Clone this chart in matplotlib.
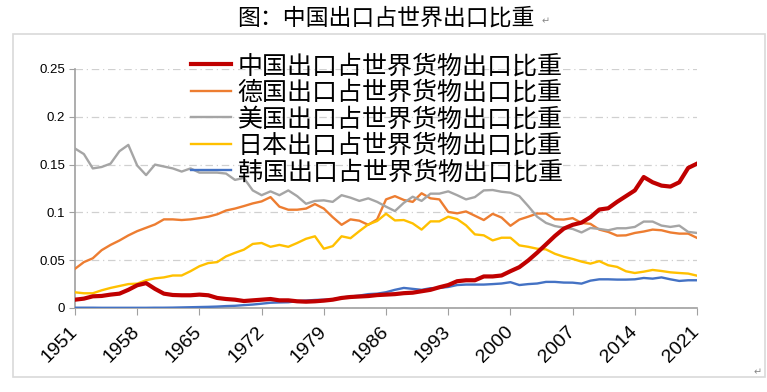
import matplotlib
matplotlib.use("Agg")
import matplotlib.pyplot as plt
from matplotlib.patches import Rectangle
import numpy as np

years = np.arange(1951, 2022)

china = [0.0087, 0.0098, 0.0122, 0.0126, 0.014, 0.015, 0.019, 0.0238, 0.026, 0.020,
         0.015, 0.0136, 0.0133, 0.0133, 0.014, 0.0133, 0.0105, 0.0094, 0.0087, 0.0073,
         0.008, 0.0087, 0.0094, 0.008, 0.008, 0.007, 0.0066, 0.007, 0.0077, 0.0087,
         0.0105, 0.0115, 0.012, 0.0125, 0.0135, 0.014, 0.0145, 0.0155, 0.016, 0.0175,
         0.019, 0.0217, 0.024, 0.028, 0.029, 0.029, 0.033, 0.033, 0.034, 0.0385,
         0.0427, 0.0497, 0.0578, 0.0665, 0.0753, 0.083, 0.087, 0.0893, 0.095, 0.103,
         0.1043, 0.111, 0.117, 0.123, 0.137, 0.1315, 0.128, 0.127, 0.1315, 0.1465,
         0.151]
germany = [0.041, 0.048, 0.052, 0.0605, 0.066, 0.0706, 0.0759, 0.0804, 0.0839, 0.0874,
           0.0927, 0.0927, 0.092, 0.0927, 0.094, 0.0955, 0.098, 0.102, 0.104, 0.1066,
           0.1094, 0.1115, 0.116, 0.106, 0.1028, 0.1028, 0.104, 0.1087, 0.104, 0.095,
           0.087, 0.0927, 0.0913, 0.087, 0.0927, 0.1136, 0.117, 0.113, 0.111, 0.12,
           0.1147, 0.1136, 0.1005, 0.099, 0.101, 0.0965, 0.092, 0.0985, 0.0946, 0.086,
           0.0925, 0.0955, 0.0988, 0.0988, 0.0928, 0.0925, 0.094, 0.089, 0.088, 0.082,
           0.0796, 0.0757, 0.076, 0.0785, 0.080, 0.082, 0.0813, 0.079, 0.0778, 0.0778,
           0.0733]
usa = [0.1668, 0.161, 0.146, 0.1475, 0.151, 0.164, 0.1706, 0.149, 0.139, 0.150,
       0.148, 0.146, 0.1427, 0.146, 0.1416, 0.1416, 0.1416, 0.1406, 0.134, 0.136,
       0.123, 0.118, 0.122, 0.118, 0.123, 0.117, 0.109, 0.112, 0.1126, 0.111,
       0.118, 0.1154, 0.112, 0.1147, 0.111, 0.106, 0.1014, 0.110, 0.1164, 0.112,
       0.1196, 0.1196, 0.122, 0.118, 0.1136, 0.116, 0.123, 0.1234, 0.1216, 0.1206,
       0.117, 0.1066, 0.0955, 0.089, 0.0857, 0.084, 0.0827, 0.079, 0.0837, 0.0827,
       0.0813, 0.0834, 0.0834, 0.0848, 0.0904, 0.0904, 0.0862, 0.0848, 0.0862, 0.0796,
       0.0785]
japan = [0.0164, 0.0154, 0.0154, 0.0185, 0.021, 0.023, 0.025, 0.0255, 0.029, 0.031,
         0.032, 0.034, 0.034, 0.0385, 0.0437, 0.047, 0.048, 0.054, 0.0577, 0.061,
         0.067, 0.068, 0.064, 0.066, 0.064, 0.068, 0.0724, 0.075, 0.062, 0.0647,
         0.075, 0.073, 0.0804, 0.0874, 0.091, 0.0986, 0.0916, 0.092, 0.0885, 0.082,
         0.0906, 0.0906, 0.0955, 0.093, 0.0865, 0.077, 0.076, 0.0707, 0.0735, 0.0735,
         0.0655, 0.064, 0.062, 0.0613, 0.0567, 0.0536, 0.0513, 0.0485, 0.0464, 0.049,
         0.0447, 0.043, 0.0384, 0.0366, 0.038, 0.0398, 0.0387, 0.0373, 0.0366, 0.036,
         0.0338]
korea = [0.0003, 0.0003, 0.0003, 0.0002, 0.0002, 0.0002, 0.0002, 0.0002, 0.0002, 0.0003,
         0.0003, 0.0004, 0.0006, 0.0008, 0.001, 0.0012, 0.0015, 0.002, 0.0023, 0.003,
         0.0036, 0.0045, 0.0055, 0.0058, 0.006, 0.0072, 0.0078, 0.0084, 0.0087, 0.009,
         0.011, 0.012, 0.013, 0.0145, 0.015, 0.0165, 0.019, 0.021, 0.020, 0.019,
         0.0207, 0.021, 0.022, 0.024, 0.0245, 0.0245, 0.0245, 0.025, 0.0256, 0.027,
         0.024, 0.025, 0.0256, 0.0273, 0.0273, 0.0266, 0.0265, 0.0255, 0.0286, 0.030,
         0.030, 0.0297, 0.0297, 0.030, 0.0314, 0.0307, 0.032, 0.030, 0.0283, 0.029,
         0.029]

labels = ["中国出口占世界货物出口比重", "德国出口占世界货物出口比重", "美国出口占世界货物出口比重",
          "日本出口占世界货物出口比重", "韩国出口占世界货物出口比重"]
xticks = list(range(1951, 2022, 7))

cjk = ["Noto Sans CJK SC", "DejaVu Sans"]
num = ["Liberation Sans", "DejaVu Sans"]

fig = plt.figure(figsize=(7.67, 3.92), dpi=100)
fig.add_artist(Rectangle((0.017, 0.038), 0.98, 0.875, transform=fig.transFigure,
                         fill=False, edgecolor="#d9d9d9", lw=1.2))
fig.text(0.503, 0.955, "图：中国出口占世界出口比重", ha="center", va="center",
         fontsize=16.5, family=cjk)
fig.text(0.706, 0.945, "↵", ha="left", va="center", fontsize=7, color="#888888",
         family=["DejaVu Sans"])
fig.text(0.982, 0.05, "↵", ha="left", va="center", fontsize=7, color="#888888",
         family=["DejaVu Sans"])

ax = fig.add_axes([0.0978, 0.2143, 0.811, 0.6097])
l_de, = ax.plot(years, germany, color="#ed7d31", lw=1.7, zorder=3)
l_us, = ax.plot(years, usa, color="#a5a5a5", lw=1.7, zorder=3)
l_jp, = ax.plot(years, japan, color="#ffc000", lw=1.7, zorder=3)
l_kr, = ax.plot(years, korea, color="#4472c4", lw=1.7, zorder=3)
l_cn, = ax.plot(years, china, color="#c00000", lw=3.0, zorder=4)

ax.set_xlim(1951, 2021)
ax.set_ylim(0, 0.25)
ax.set_yticks([0, 0.05, 0.1, 0.15, 0.2, 0.25])
ax.set_yticklabels(["0", "0.05", "0.1", "0.15", "0.2", "0.25"], family=num, fontsize=9.5)
ax.set_xticks(xticks)
ax.set_xticklabels([str(y) for y in xticks], family=num, fontsize=14,
                   rotation=45, ha="right", va="center", rotation_mode="anchor")
ax.tick_params(axis="x", length=5, color="#a0a0a0", pad=10)
ax.tick_params(axis="y", length=4, color="#a0a0a0", pad=3)
ax.grid(axis="y", color="#d0d0d0", lw=0.9, ls=(0, (6, 3, 1, 3)))
ax.set_axisbelow(True)
for s in ["top", "right"]:
    ax.spines[s].set_visible(False)
for s in ["left", "bottom"]:
    ax.spines[s].set_color("#a0a0a0")
    ax.spines[s].set_linewidth(1.2)

leg = ax.legend([l_cn, l_de, l_us, l_jp, l_kr], labels, loc="upper left",
                bbox_to_anchor=(0.171, 1.108), frameon=False, handlelength=1.6,
                handletextpad=0.25, labelspacing=0.02, borderaxespad=0,
                prop={"family": cjk, "size": 18})

plt.savefig("out.png", dpi=100)
